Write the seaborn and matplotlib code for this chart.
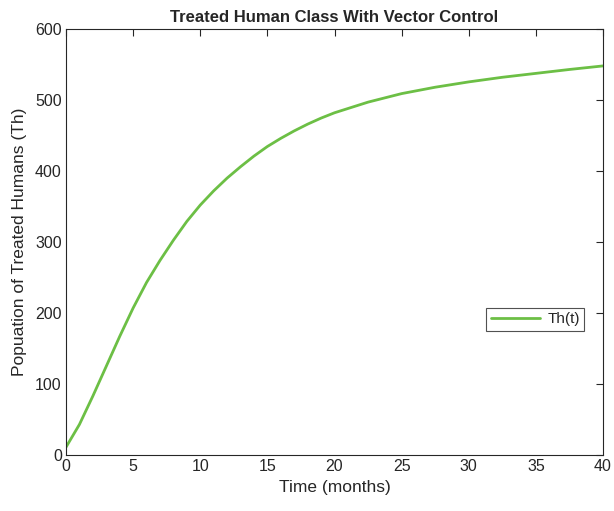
import matplotlib
matplotlib.use("Agg")
import matplotlib.pyplot as plt
import seaborn as sns
import pandas as pd

time_months = [0, 1, 2, 3, 4, 5, 6, 7, 8, 9, 10, 11, 12, 13, 14, 15, 16, 17, 18, 19, 20,
               22.5, 25, 27.5, 30, 32.5, 35, 37.5, 40]
treated_humans = [11, 43, 83, 125, 167, 207, 243, 274, 302.5, 329, 352, 372, 390, 406, 421,
                  434.5, 446, 456.5, 466, 474.5, 482, 497, 509, 518, 525.5, 532, 537.5, 543, 548]
x_ticks = [0, 5, 10, 15, 20, 25, 30, 35, 40]
y_ticks = [0, 100, 200, 300, 400, 500, 600]

df = pd.DataFrame({"t": time_months, "Th": treated_humans})

sns.set_theme(style="white")
plt.rcParams['font.family'] = ['Liberation Sans', 'DejaVu Sans']

fig = plt.figure(figsize=(6.14, 5.11), dpi=100)
ax = fig.add_axes([66/614, 56/511, 537/614, 426/511])
sns.lineplot(data=df, x="t", y="Th", ax=ax, color="#6CBF45", linewidth=2, label="Th(t)")

ax.set_xlim(0, 40)
ax.set_ylim(0, 600)
ax.set_xticks(x_ticks)
ax.set_yticks(y_ticks)
ax.tick_params(direction="in", top=True, right=True, length=5, width=0.8,
               labelsize=11.5, colors="#262626", pad=3)
for s in ax.spines.values():
    s.set_color("#262626")
    s.set_linewidth(0.8)
ax.set_xlabel("Time (months)", fontsize=12.5, color="#262626", labelpad=4)
ax.set_ylabel("Popuation of Treated Humans (Th)", fontsize=12.5, color="#262626", labelpad=6)
ax.set_title("Treated Human Class With Vector Control", fontsize=12, fontweight="bold", pad=5)

leg = ax.legend(loc="center", bbox_to_anchor=(0.874, 0.319), fontsize=11,
                frameon=True, fancybox=False, edgecolor="#262626",
                borderpad=0.3, handlelength=3.2, handletextpad=0.5)
leg.get_frame().set_linewidth(0.8)

fig.savefig("out.png", dpi=100)
